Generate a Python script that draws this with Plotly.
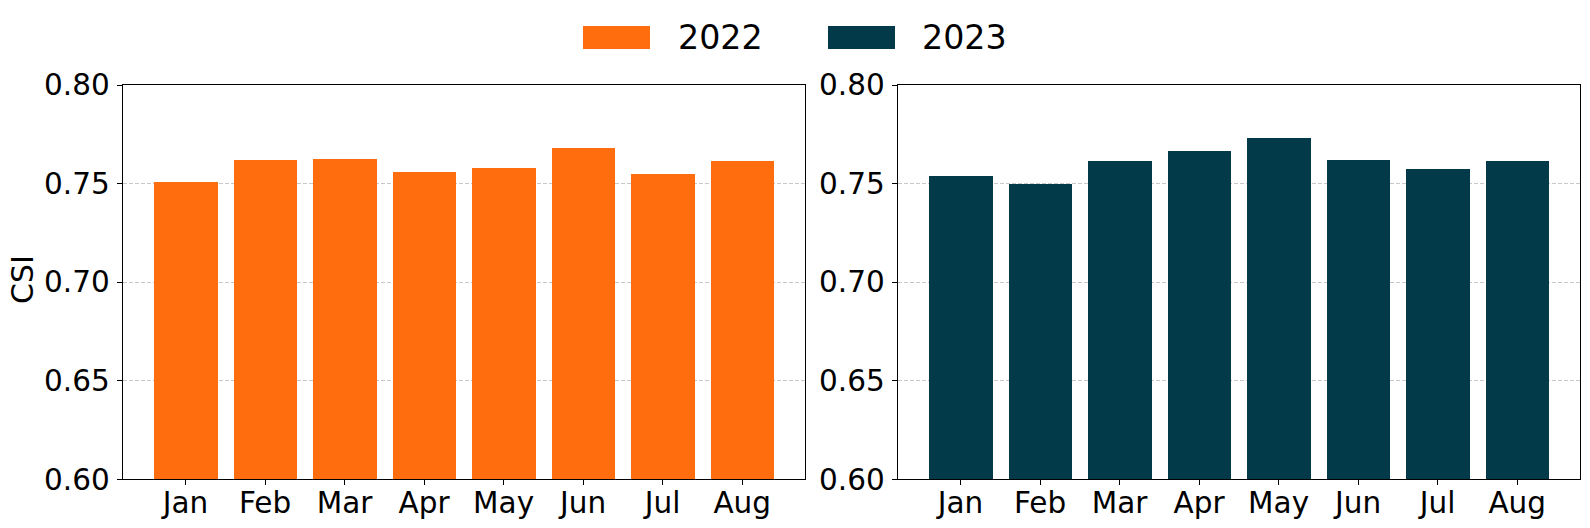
import plotly.graph_objects as go

months = ["Jan", "Feb", "Mar", "Apr", "May", "Jun", "Jul", "Aug"]
csi_2022 = [0.7507, 0.7618, 0.7627, 0.7557, 0.7578, 0.7679, 0.7547, 0.7613]
csi_2023 = [0.7536, 0.7500, 0.7617, 0.7664, 0.7730, 0.7622, 0.7576, 0.7613]
series_names = ["2022", "2023"]
colors = ["#ff6d0e", "#023a4a"]
y_ticks = [0.60, 0.65, 0.70, 0.75, 0.80]

W, H = 1590, 528
FONT = "DejaVu Sans"
FS = 29.5
FS_LEG = 33.3

fig = go.Figure()
fig.add_trace(go.Bar(x=list(range(len(months))), y=csi_2022, width=0.8,
                     marker=dict(color=colors[0], line=dict(width=0)),
                     name=series_names[0], xaxis="x", yaxis="y", showlegend=False))
fig.add_trace(go.Bar(x=list(range(len(months))), y=csi_2023, width=0.8,
                     marker=dict(color=colors[1], line=dict(width=0)),
                     name=series_names[1], xaxis="x2", yaxis="y2", showlegend=False))

left_dom = [122.7 / W, 805 / W]
right_dom = [897.7 / W, 1580 / W]
y_dom = [(H - 479.3) / H, (H - 85) / H]

xcommon = dict(range=[-0.79, 7.79], tickmode="array", tickvals=list(range(len(months))),
               ticktext=months, showline=True, linecolor="black", linewidth=1.2,
               mirror=True, ticks="outside", ticklen=5, tickwidth=1.2, tickcolor="black",
               showgrid=False, zeroline=False, tickfont=dict(family=FONT, size=FS, color="black"),
               automargin=False, ticklabelstandoff=-8)
ycommon = dict(range=[0.60, 0.80], tickmode="array", tickvals=y_ticks,
               ticktext=[f"{v:.2f}" for v in y_ticks], showline=True, linecolor="black",
               linewidth=1.2, mirror=True, ticks="outside", ticklen=5, tickwidth=1.2,
               tickcolor="black", showgrid=True, gridcolor="#c8c8c8", gridwidth=1,
               griddash="4px,2px", zeroline=False,
               tickfont=dict(family=FONT, size=FS, color="black"), automargin=False,
               ticklabelstandoff=1)

fig.update_layout(
    width=W, height=H,
    margin=dict(l=0, r=0, t=0, b=0),
    paper_bgcolor="white", plot_bgcolor="white",
    font=dict(family=FONT, size=FS, color="black"),
    bargap=0,
    xaxis=dict(domain=left_dom, anchor="y", **xcommon),
    yaxis=dict(domain=y_dom, anchor="x", **ycommon),
    xaxis2=dict(domain=right_dom, anchor="y2", **xcommon),
    yaxis2=dict(domain=y_dom, anchor="x2", **ycommon),
    showlegend=False,
)

# Y-axis title as annotation (left panel)
fig.add_annotation(x=22 / W, y=1 - 280 / H, xref="paper", yref="paper", text="CSI",
                   showarrow=False, textangle=-90, xanchor="center", yanchor="middle",
                   font=dict(family=FONT, size=30, color="black"))

# Custom legend (large swatches)
legend_items = [(583, 650, 676), (828, 895, 920)]
for (sx0, sx1, tx), name, col in zip(legend_items, series_names, colors):
    fig.add_shape(type="rect", xref="paper", yref="paper",
                  x0=sx0 / W, x1=sx1 / W, y0=1 - 49 / H, y1=1 - 26 / H,
                  fillcolor=col, line=dict(width=0))
    fig.add_annotation(x=tx / W, y=1 - 37.5 / H, xref="paper", yref="paper", text=name,
                       showarrow=False, xanchor="left", yanchor="middle",
                       font=dict(family=FONT, size=FS_LEG, color="black"))

fig.write_html("out.html", config={"displayModeBar": False},
               post_script="document.body.style.margin='0';document.body.style.overflow='hidden';")
